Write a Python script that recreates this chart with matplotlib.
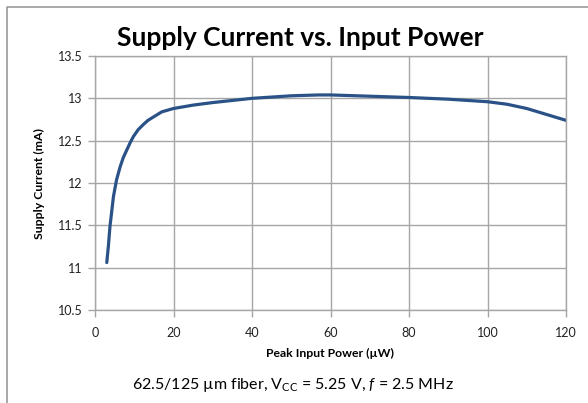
import matplotlib
matplotlib.use('Agg')
import matplotlib.pyplot as plt
from matplotlib.lines import Line2D
import numpy as np

power = [3, 3.4, 3.8, 4.3, 4.7, 5.5, 6.4, 7.2, 8.1, 9, 9.8, 11, 12.3, 13.5, 14.9, 17, 20, 25, 30, 40,
         50, 57, 60, 70, 80, 90, 100, 105, 110, 115, 120]
current = [11.06, 11.25, 11.48, 11.68, 11.84, 12.04, 12.19, 12.30, 12.39, 12.48, 12.55, 12.63, 12.69,
           12.74, 12.78, 12.84, 12.88, 12.92, 12.95, 13.00, 13.03, 13.04, 13.04, 13.025, 13.01, 12.99,
           12.96, 12.93, 12.88, 12.81, 12.74]
xticks = [0, 20, 40, 60, 80, 100, 120]
yticks = [10.5, 11, 11.5, 12, 12.5, 13, 13.5]

plt.rcParams['font.family'] = ['Lato', 'DejaVu Sans']
plt.rcParams['mathtext.fontset'] = 'custom'
plt.rcParams['mathtext.rm'] = 'Lato'
plt.rcParams['mathtext.it'] = 'Lato:italic'

gray = '#a6a6a6'
fig = plt.figure(figsize=(5.88, 4.03), dpi=100)
ax = fig.add_axes([95 / 588, 1 - 310 / 403, 471 / 588, 254 / 403])

ax.plot(power, current, color='#2b5287', lw=2.3, solid_capstyle='round', solid_joinstyle='round')
ax.set_xlim(0, 120)
ax.set_ylim(10.5, 13.5)
ax.set_xticks(xticks)
ax.set_yticks(yticks)
ax.set_yticklabels([('%g' % v) for v in yticks])
ax.grid(True, color=gray, lw=1)
ax.set_axisbelow(True)
for s in ax.spines.values():
    s.set_color(gray)
    s.set_linewidth(1)
ax.tick_params(length=5, width=1, color=gray, labelsize=9, labelcolor='#222222', pad=4)
ax.tick_params(axis='x', pad=7)

ax.set_xlabel('Peak Input Power (µW)', fontsize=8.8, fontweight='bold', labelpad=7)
ax.set_ylabel('Supply Current (mA)', fontsize=8.8, fontweight='bold', labelpad=9)

fig.text(300 / 588, 1 - 38 / 403, 'Supply Current vs. Input Power', fontsize=19, fontweight='bold',
         ha='center', va='center')
fig.text(293 / 588, 1 - 385 / 403, r'62.5/125 µm fiber, V$_{\mathregular{CC}}$ = 5.25 V, $\mathit{f}$ = 2.5 MHz',
         fontsize=11.5, ha='center', va='center')

# chart border (left and top only)
fig.add_artist(Line2D([7 / 588, 7 / 588, 1], [0, 1 - 7 / 403, 1 - 7 / 403], color='#9a9a9a', lw=1.2,
                      transform=fig.transFigure))

fig.savefig('out.png', dpi=100)
